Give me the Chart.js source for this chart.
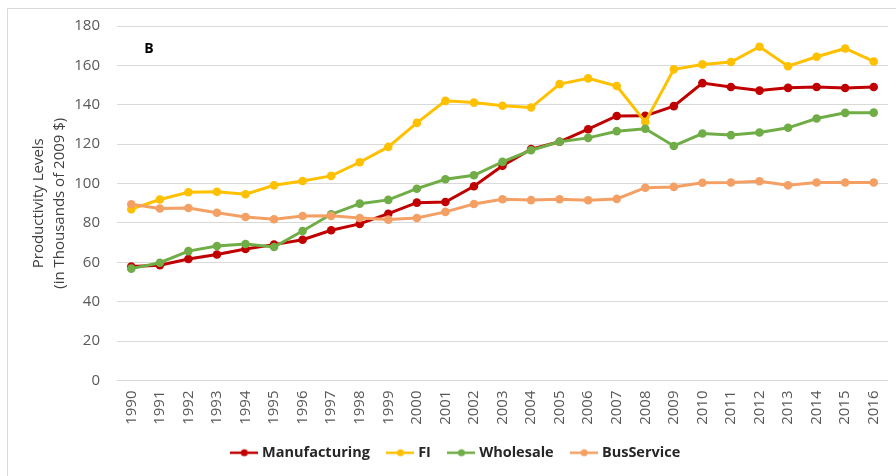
<!DOCTYPE html>
<html>
<head>
<meta charset="utf-8">
<script src="https://cdn.jsdelivr.net/npm/chart.js@4/dist/chart.umd.min.js"></script>
<style>
  html, body { margin: 0; padding: 0; background: #fff; }
  #wrap { width: 896px; height: 476px; position: relative; }
</style>
</head>
<body>
<div id="wrap"><canvas id="canvas"></canvas></div>
<script>
const years = ["1990","1991","1992","1993","1994","1995","1996","1997","1998","1999","2000","2001","2002","2003","2004","2005","2006","2007","2008","2009","2010","2011","2012","2013","2014","2015","2016"];

const manufacturing = [57.9, 58.5, 61.7, 64, 66.8, 69, 71.5, 76.3, 79.5, 84.7, 90.3, 90.6, 98.6, 109, 117.5, 121.2, 127.6, 134.3, 134.4, 139.3, 151, 149, 147.2, 148.6, 149, 148.5, 149];
const fi = [87, 91.9, 95.6, 95.8, 94.6, 99.1, 101.3, 103.9, 110.8, 118.6, 130.8, 142, 141.1, 139.5, 138.6, 150.5, 153.4, 149.5, 131.3, 158, 160.5, 161.7, 169.5, 159.6, 164.4, 168.6, 162];
const wholesale = [56.8, 59.8, 65.7, 68.3, 69.3, 67.8, 75.9, 84.4, 89.8, 91.7, 97.4, 102.2, 104.2, 111, 116.9, 121.2, 123.2, 126.6, 127.8, 119.1, 125.4, 124.6, 125.9, 128.3, 133, 135.9, 136];
const busService = [89.5, 87.3, 87.6, 85.2, 83, 81.9, 83.5, 83.6, 82.5, 81.7, 82.5, 85.6, 89.6, 92, 91.6, 92, 91.5, 92.2, 97.9, 98.3, 100.4, 100.5, 101.2, 99.1, 100.5, 100.5, 100.5];

const yTicks = [0, 20, 40, 60, 80, 100, 120, 140, 160, 180];

const colors = {
  Manufacturing: "#C00000",
  FI: "#FFC000",
  Wholesale: "#70AD47",
  BusService: "#F4A064",
};

// little line + dot marker for the legend
function legendMarker(color) {
  const c = document.createElement("canvas");
  c.width = 28;
  c.height = 10;
  const g = c.getContext("2d");
  g.strokeStyle = color;
  g.lineWidth = 2.5;
  g.beginPath();
  g.moveTo(0, 5);
  g.lineTo(28, 5);
  g.stroke();
  g.fillStyle = color;
  g.beginPath();
  g.arc(14, 5, 3.5, 0, Math.PI * 2);
  g.fill();
  return c;
}

function series(label, values, order) {
  return {
    label: label,
    data: values,
    borderColor: colors[label],
    backgroundColor: colors[label],
    borderWidth: 3,
    pointRadius: 4.3,
    pointHoverRadius: 4.3,
    pointBorderWidth: 0,
    tension: 0,
    fill: false,
    order: order,
  };
}

const frame = {
  id: "frame",
  beforeDraw(chart) {
    const ctx = chart.ctx;
    ctx.save();
    ctx.fillStyle = "#fff";
    ctx.fillRect(0, 0, chart.width, chart.height);
    ctx.strokeStyle = "#d9d9d9";
    ctx.lineWidth = 1;
    ctx.beginPath();
    ctx.moveTo(7.5, chart.height);
    ctx.lineTo(7.5, 8.5);
    ctx.lineTo(chart.width, 8.5);
    ctx.stroke();
    ctx.restore();
  },
  afterDraw(chart) {
    const ctx = chart.ctx;
    const a = chart.chartArea;
    ctx.save();
    ctx.fillStyle = "#000";
    ctx.font = "bold 14px 'Open Sans'";
    ctx.textAlign = "center";
    ctx.textBaseline = "middle";
    ctx.fillText("B", a.left + 32, a.top + 23);
    ctx.restore();
  },
};

const data = {
  labels: years,
  datasets: [
    series("Manufacturing", manufacturing, 3),
    series("FI", fi, 2),
    series("Wholesale", wholesale, 1),
    series("BusService", busService, 0),
  ],
};

const config = {
  type: "line",
  data: data,
  options: {
    responsive: false,
    animation: false,
    events: [],
    layout: { padding: { left: 18, right: 0, top: 25, bottom: 6 } },
    plugins: {
      legend: {
        position: "bottom",
        labels: {
          usePointStyle: true,
          pointStyleWidth: 21,
          padding: 20,
          color: "#262626",
          font: { family: "'Open Sans'", size: 14.5, weight: "bold" },
          generateLabels(chart) {
            return chart.data.datasets.map((ds, i) => ({
              text: ds.label,
              fillStyle: ds.borderColor,
              strokeStyle: ds.borderColor,
              lineWidth: 0,
              pointStyle: legendMarker(ds.borderColor),
              hidden: false,
              datasetIndex: i,
              fontColor: "#262626",
            }));
          },
        },
      },
      tooltip: { enabled: false },
    },
    scales: {
      x: {
        offset: true,
        grid: { display: false, drawTicks: false },
        border: { display: false },
        ticks: {
          minRotation: 90,
          maxRotation: 90,
          padding: 10,
          color: "#595959",
          font: { family: "'Open Sans'", size: 15 },
          autoSkip: false,
        },
        afterFit(scale) {
          scale.height = 45;
          scale.paddingRight = 8;
        },
      },
      y: {
        min: 0,
        max: 180,
        afterBuildTicks(scale) { scale.ticks = yTicks.map(v => ({ value: v })); },
        grid: { color: "#d9d9d9", lineWidth: 1, drawTicks: false },
        border: { display: false },
        ticks: {
          padding: 17,
          color: "#595959",
          font: { family: "'Open Sans'", size: 15 },
        },
        title: {
          display: true,
          text: ["Productivity Levels", "(in Thousands of 2009 $)"],
          color: "#404040",
          font: { family: "'Open Sans'", size: 15, lineHeight: 1.4 },
          padding: { top: 10, bottom: 0 },
        },
        afterFit(scale) { scale.width = 99; },
      },
    },
  },
  plugins: [frame],
};

const canvas = document.getElementById("canvas");
canvas.width = 896;
canvas.height = 476;
const chart = new Chart(canvas, config);
</script>
</body>
</html>
